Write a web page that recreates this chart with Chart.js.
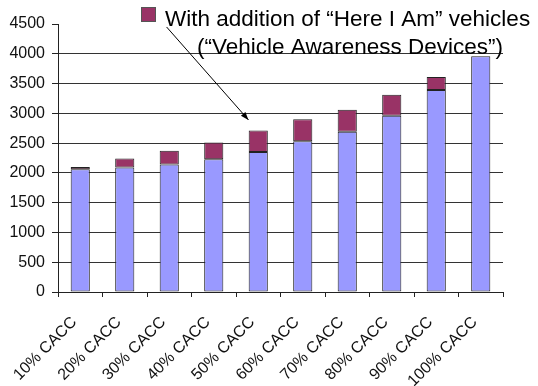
<!DOCTYPE html>
<html>
<head>
<meta charset="utf-8">
<script src="https://cdn.jsdelivr.net/npm/chart.js@4/dist/chart.umd.min.js"></script>
<style>
html,body{margin:0;padding:0;background:#fff;}
#wrap{width:538px;height:386px;}
</style>
</head>
<body>
<div id="wrap"><canvas id="c" width="538" height="386"></canvas></div>
<script>
const categories = ['10% CACC','20% CACC','30% CACC','40% CACC','50% CACC','60% CACC','70% CACC','80% CACC','90% CACC','100% CACC'];
const baseValues = [2060, 2090, 2140, 2230, 2350, 2530, 2690, 2960, 3390, 3960];
const addedValues = [40, 150, 230, 280, 360, 370, 370, 350, 220, 0];
const yMax = 4500;
const yStep = 500;
const legendLines = ['With addition of \u201CHere I Am\u201D vehicles', '(\u201CVehicle Awareness Devices\u201D)'];
// arrow annotation expressed in data coordinates (category index, value)
const arrowFrom = [1.94, 4450];
const arrowTo = [3.78, 2890];

const FONT = '"Liberation Sans", Arial, sans-serif';

const overlay = {
  id: 'overlay',
  afterDraw(chart) {
    const ctx = chart.ctx;
    const xs = chart.scales.x, ys = chart.scales.y;
    ctx.save();
    // legend
    ctx.fillStyle = '#993366';
    ctx.strokeStyle = '#555';
    ctx.lineWidth = 1;
    ctx.fillRect(141, 7, 15, 15);
    ctx.strokeRect(141.5, 7.5, 14, 14);
    ctx.fillStyle = '#000';
    ctx.font = '22.5px ' + FONT;
    ctx.textBaseline = 'alphabetic';
    ctx.textAlign = 'left';
    ctx.fillText(legendLines[0], 165, 26);
    ctx.fillText(legendLines[1], 197, 54);
    // arrow
    const x1 = xs.getPixelForValue(arrowFrom[0]), y1 = ys.getPixelForValue(arrowFrom[1]);
    const x2 = xs.getPixelForValue(arrowTo[0]), y2 = ys.getPixelForValue(arrowTo[1]);
    ctx.strokeStyle = '#000';
    ctx.lineWidth = 1;
    ctx.beginPath();
    ctx.moveTo(x1, y1);
    ctx.lineTo(x2, y2);
    ctx.stroke();
    const ang = Math.atan2(y2 - y1, x2 - x1);
    const L = 8, W = 3;
    ctx.beginPath();
    ctx.moveTo(x2, y2);
    ctx.lineTo(x2 - L*Math.cos(ang) + W*Math.sin(ang), y2 - L*Math.sin(ang) - W*Math.cos(ang));
    ctx.lineTo(x2 - L*Math.cos(ang) - W*Math.sin(ang), y2 - L*Math.sin(ang) + W*Math.cos(ang));
    ctx.closePath();
    ctx.fillStyle = '#000';
    ctx.fill();
    ctx.restore();
  }
};

new Chart(document.getElementById('c'), {
  type: 'bar',
  data: {
    labels: categories,
    datasets: [
      { label: 'Base', data: baseValues, backgroundColor: '#9999FF', borderColor: '#222', borderWidth: 1, borderSkipped: false, barPercentage: 0.43, categoryPercentage: 1 },
      { label: legendLines.join(' '), data: addedValues, backgroundColor: '#993366', borderColor: '#222', borderWidth: 1, borderSkipped: false, barPercentage: 0.43, categoryPercentage: 1 }
    ]
  },
  options: {
    responsive: false,
    animation: false,
    layout: { padding: { left: 0, right: 35, top: 24, bottom: 0 } },
    plugins: { legend: { display: false }, tooltip: { enabled: false } },
    scales: {
      x: {
        stacked: true,
        offset: true,
        border: { display: true, color: '#222', width: 1 },
        grid: { offset: true, drawOnChartArea: false, drawTicks: true, tickLength: 5, color: '#222' },
        ticks: { minRotation: 45, maxRotation: 45, color: '#111', font: { family: FONT, size: 16 }, padding: 16, labelOffset: -6 },
        afterFit(s) { s.height = 94; }
      },
      y: {
        stacked: true,
        min: 0, max: yMax,
        border: { display: true, color: '#222', width: 1 },
        grid: {
          color: (c) => (c.tick && c.tick.value === yMax) ? 'rgba(0,0,0,0)' : '#333',
          tickColor: '#222', tickLength: 6, drawTicks: true
        },
        ticks: { stepSize: yStep, color: '#111', font: { family: FONT, size: 16 }, padding: 7, callback: (v) => String(v) },
        afterFit(s) { s.width = 58; }
      }
    }
  },
  plugins: [overlay]
});
</script>
</body>
</html>
